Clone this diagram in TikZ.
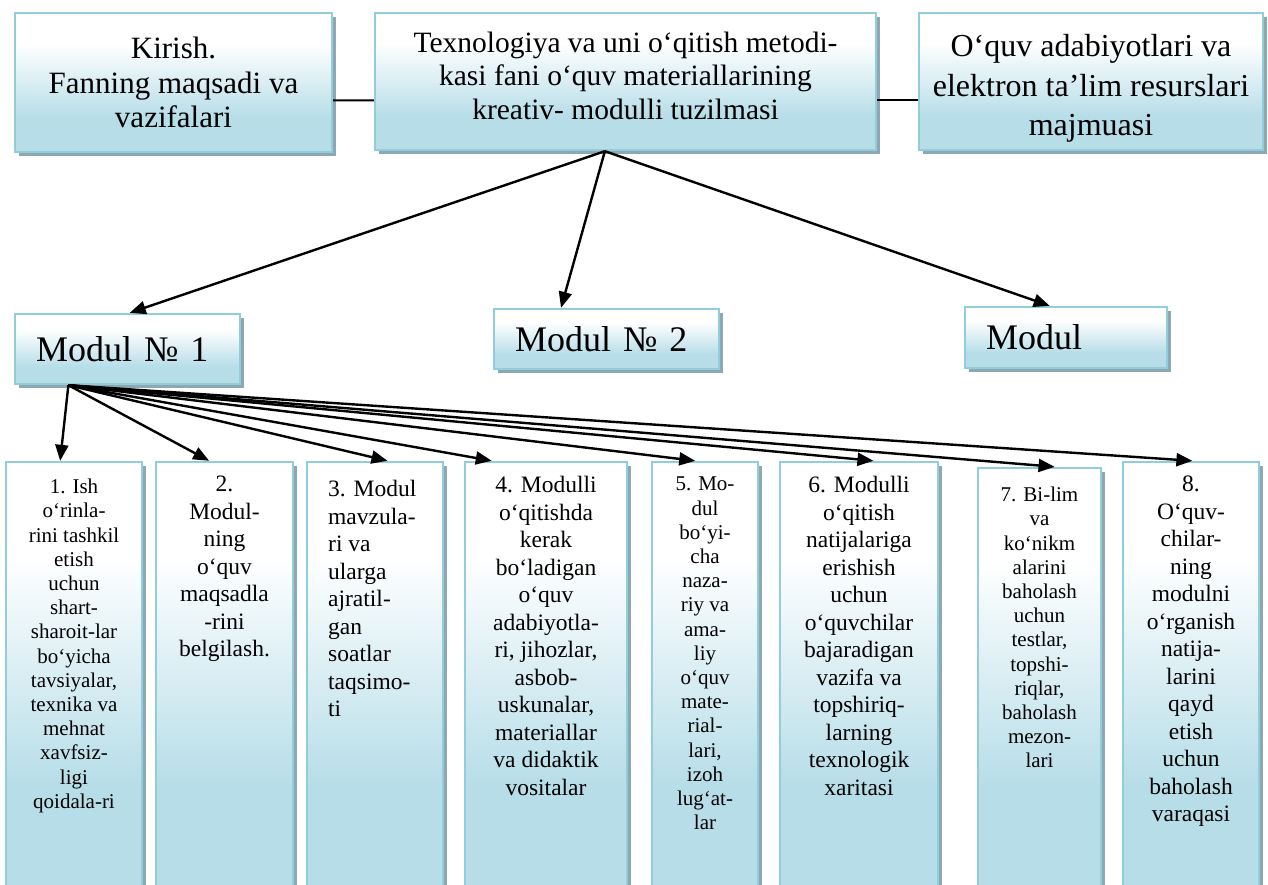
\documentclass[tikz,border=0pt]{standalone}
\usepackage{fontspec}
\setmainfont{Liberation Serif}
\usetikzlibrary{arrows.meta,shadows,calc}
\definecolor{bordc}{RGB}{146,205,220}
\definecolor{fillc}{RGB}{182,221,232}
\definecolor{shadc}{RGB}{140,168,178}
\pgfdeclareverticalshading{boxshade}{100bp}{color(0bp)=(fillc); color(25bp)=(fillc); color(37bp)=(fillc); color(64bp)=(white); color(75bp)=(white); color(100bp)=(white)}
\newcommand\bxsmall{\fontsize{10.5pt}{12.1pt}\selectfont}
\newcommand\bxbig{\fontsize{11.75pt}{13.75pt}\selectfont}
\tikzset{
  boxbase/.style={draw=bordc, line width=1.2pt, shade, shading=boxshade,
    drop shadow={shadow xshift=2pt, shadow yshift=-2pt, fill=shadc, opacity=1},
    inner sep=0pt, align=center},
  topbox/.style={boxbase},
  modbox/.style={boxbase, align=left, inner xsep=10.5pt, font=\fontsize{18pt}{21pt}\selectfont},
  colbox/.style={boxbase, minimum height=214pt},
  btext/.style={anchor=north, inner sep=0pt, align=center},
  conn/.style={line width=1pt},
  arr/.style={line width=1.2pt, -{Triangle[length=8pt,width=6.5pt]}},
}
\begin{document}
\begin{tikzpicture}[x=0.5pt,y=-0.5pt]
\useasboundingbox (0,0) rectangle (1268,884);
\clip (0,0) rectangle (1268,884);

% top row
\node[topbox, minimum width=158.5pt, minimum height=69.5pt,
  font=\fontsize{15.5pt}{17.25pt}\selectfont] (A) at (173.5,82.5)
  {Kirish.\\Fanning maqsadi va\\vazifalari};
\node[topbox, minimum width=250.5pt, minimum height=68.5pt,
  font=\fontsize{14.75pt}{16.75pt}\selectfont] (B) at (625.5,81.5)
  {Texnologiya va uni o‘qitish metodi-\\kasi fani o‘quv materiallarining\\kreativ- modulli tuzilmasi\rule[-6pt]{0pt}{0pt}};
\node[topbox, minimum width=172pt, minimum height=68.5pt,
  font=\fontsize{16pt}{19.75pt}\selectfont] (C) at (1091,81.5)
  {\rule{0pt}{18pt}O‘quv adabiyotlari va\\elektron ta’lim resurslari\\majmuasi};

% modules
\node[modbox, text width=91.5pt, minimum height=35pt] (M1) at (127.5,349) {Modul № 1};
\node[modbox, text width=91.5pt, minimum height=30pt] (M2) at (606.5,339) {Modul № 2};
\node[modbox, text width=80pt, minimum height=30.5pt] (M3) at (1066,337.5) {Modul};

% columns
\node[colbox, minimum width=68pt] (b1) at (74,676) {};
\node[colbox, minimum width=68.5pt] (b2) at (224.5,676) {};
\node[colbox, minimum width=68pt] (b3) at (375,676) {};
\node[colbox, minimum width=81pt] (b4) at (546,676) {};
\node[colbox, minimum width=53pt] (b5) at (705,676) {};
\node[colbox, minimum width=79pt] (b6) at (859,676) {};
\node[colbox, minimum width=61.5pt, minimum height=211pt] (b7) at (1039.5,679) {};
\node[colbox, minimum width=68pt] (b8) at (1191,676) {};

% column texts
\node[btext, font=\bxsmall] (t1) at ($(b1.north)+(0,18)$)
  {1. Ish\\o‘rinla-\\rini tashkil\\etish\\uchun\\shart-\\sharoit-lar\\bo‘yicha\\tavsiyalar,\\texnika va\\mehnat\\xavfsiz-\\ligi\\qoidala-ri};
\node[btext, font=\bxbig] (t2) at ($(b2.north)+(0,15)$)
  {2.\\Modul-\\ning\\o‘quv\\maqsadla\\-rini\\belgilash.};
\node[btext, anchor=north west, align=left, font=\bxbig] (t3) at ($(b3.north west)+(22,19)$)
  {3. Modul\\mavzula-\\ri va\\ularga\\ajratil-\\gan\\soatlar\\taqsimo-\\ti};
\node[btext, font=\bxbig] (t4) at ($(b4.north)+(0,15)$)
  {4. Modulli\\o‘qitishda\\kerak\\bo‘ladigan\\o‘quv\\adabiyotla-\\ri, jihozlar,\\asbob-\\uskunalar,\\materiallar\\va didaktik\\vositalar};
\node[btext, font=\bxsmall] (t5) at ($(b5.north)+(0,16)$)
  {5. Mo-\\dul\\bo‘yi-\\cha\\naza-\\riy va\\ama-\\liy\\o‘quv\\mate-\\rial-\\lari,\\izoh\\lug‘at-\\lar};
\node[btext, font=\bxbig] (t6) at ($(b6.north)+(0,15)$)
  {6. Modulli\\o‘qitish\\natijalariga\\erishish\\uchun\\o‘quvchilar\\bajaradigan\\vazifa va\\topshiriq-\\larning\\texnologik\\xaritasi};
\node[btext, font=\bxsmall] (t7) at ($(b7.north)+(0,20)$)
  {7. Bi-lim\\va\\ko‘nikm\\alarini\\baholash\\uchun\\testlar,\\topshi-\\riqlar,\\baholash\\mezon-\\lari};
\node[btext, font=\bxbig] (t8) at ($(b8.north)+(0,15)$)
  {8.\\O‘quv-\\chilar-\\ning\\modulni\\o‘rganish\\natija-\\larini\\qayd\\etish\\uchun\\baholash\\varaqasi};

% horizontal connectors
\draw[conn] ($(A.north east)!0.626!(A.south east)$) -- ($(B.north west)!0.635!(B.south west)$);
\draw[conn] ($(B.north east)!0.635!(B.south east)$) -- ($(C.north west)!0.635!(C.south west)$);

% arrows from B to modules
\coordinate (oB) at ($(B.south west)!0.459!(B.south east)$);
\draw[arr] (oB) -- ($(M1.north west)!0.51!(M1.north east)$);
\draw[arr] (oB) -- ($(M2.north west)!0.30!(M2.north east)$);
\draw[arr] (oB) -- ($(M3.north west)!0.42!(M3.north east)$);

% arrows from module 1 to columns
\coordinate (oM) at ($(M1.south west)!0.24!(M1.south east)$);
\draw[arr] (oM) -- ($(b1.north west)!0.40!(b1.north east)$);
\draw[arr] (oM) -- ($(b2.north west)!0.39!(b2.north east)$);
\draw[arr] (oM) -- ($(b3.north west)!0.59!(b3.north east)$);
\draw[arr] (oM) -- ($(b4.north west)!0.17!(b4.north east)$);
\draw[arr] (oM) -- ($(b5.north west)!0.41!(b5.north east)$);
\draw[arr] (oM) -- ($(b6.north west)!0.59!(b6.north east)$);
\draw[arr] (oM) -- ($(b7.north west)!0.62!(b7.north east)$);
\draw[arr] (oM) -- ($(b8.north west)!0.51!(b8.north east)$);
\end{tikzpicture}
\end{document}
